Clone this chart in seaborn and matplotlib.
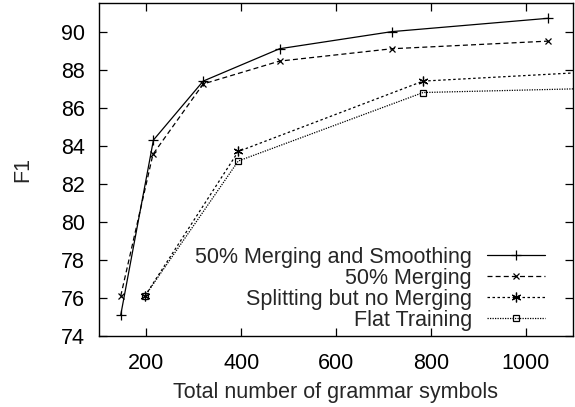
import numpy as np
import pandas as pd
import matplotlib
matplotlib.use("Agg")
import matplotlib.pyplot as plt
import seaborn as sns

# --- data ---
SERIES = [
    "50% Merging and Smoothing",
    "50% Merging",
    "Splitting but no Merging",
    "Flat Training",
]
smooth_x = [146, 215, 320, 481, 718, 1047]
smooth_y = [75.1, 84.3, 87.4, 89.1, 90.0, 90.7]
merge_x = [146, 214, 320, 481, 718, 1047]
merge_y = [76.1, 83.55, 87.25, 88.45, 89.1, 89.5]
split_x = [197, 394, 784, 1450]
split_y = [76.1, 83.7, 87.4, 88.3]
flat_x = [197, 394, 784, 1450]
flat_y = [76.1, 83.2, 86.8, 87.2]

X_TICKS = [200, 400, 600, 800, 1000]
Y_TICKS = [74, 76, 78, 80, 82, 84, 86, 88, 90]

sns.set_style("ticks")
plt.rcParams["font.family"] = ["Liberation Sans", "DejaVu Sans"]

FS = 15.5

STYLES = {
    SERIES[0]: dict(ls="-", marker="+", ms=7),
    SERIES[1]: dict(ls=(0, (4, 2.5)), marker="x", ms=5),
    SERIES[2]: dict(ls=(0, (2, 2)), marker=(6, 2, 0), ms=7),
    SERIES[3]: dict(ls=(0, (1, 1)), marker="s", ms=5),
}

fig = plt.figure(figsize=(5.75, 4.07), dpi=100)
ax = fig.add_axes([0.172, 0.1744, 0.8245, 0.818])

for name, xs, ys in zip(SERIES, [smooth_x, merge_x, split_x, flat_x],
                        [smooth_y, merge_y, split_y, flat_y]):
    st = STYLES[name]
    sns.lineplot(x=xs, y=ys, ax=ax, label=name, color="black", lw=0.9,
                 linestyle=st["ls"], marker=st["marker"], markersize=st["ms"],
                 markerfacecolor="none", markeredgecolor="black",
                 markeredgewidth=0.9, sort=False, estimator=None)

ax.set_xlim(100, 1100)
ax.set_ylim(74, 91.5)
ax.set_xticks(X_TICKS)
ax.set_yticks(Y_TICKS)
ax.tick_params(direction="in", length=6, width=0.9, labelsize=FS,
               top=True, right=True, colors="black")
ax.tick_params(axis="x", pad=12)
ax.tick_params(axis="y", pad=10)
for sp in ax.spines.values():
    sp.set_visible(True)
    sp.set_linewidth(1.0)
    sp.set_color("black")

ax.set_xlabel("Total number of grammar symbols", fontsize=FS, labelpad=6)
ax.set_ylabel("F1", fontsize=FS, labelpad=20)

leg = ax.legend(loc="lower right", bbox_to_anchor=(0.941, 0.015),
                frameon=False, fontsize=FS, markerfirst=False,
                handlelength=2.7, handletextpad=0.7, labelspacing=0.0,
                borderaxespad=0.0, borderpad=0.0)
for t in leg.get_texts():
    t.set_ha("right")
leg._legend_box.align = "right"

fig.savefig("out.png", dpi=100)
